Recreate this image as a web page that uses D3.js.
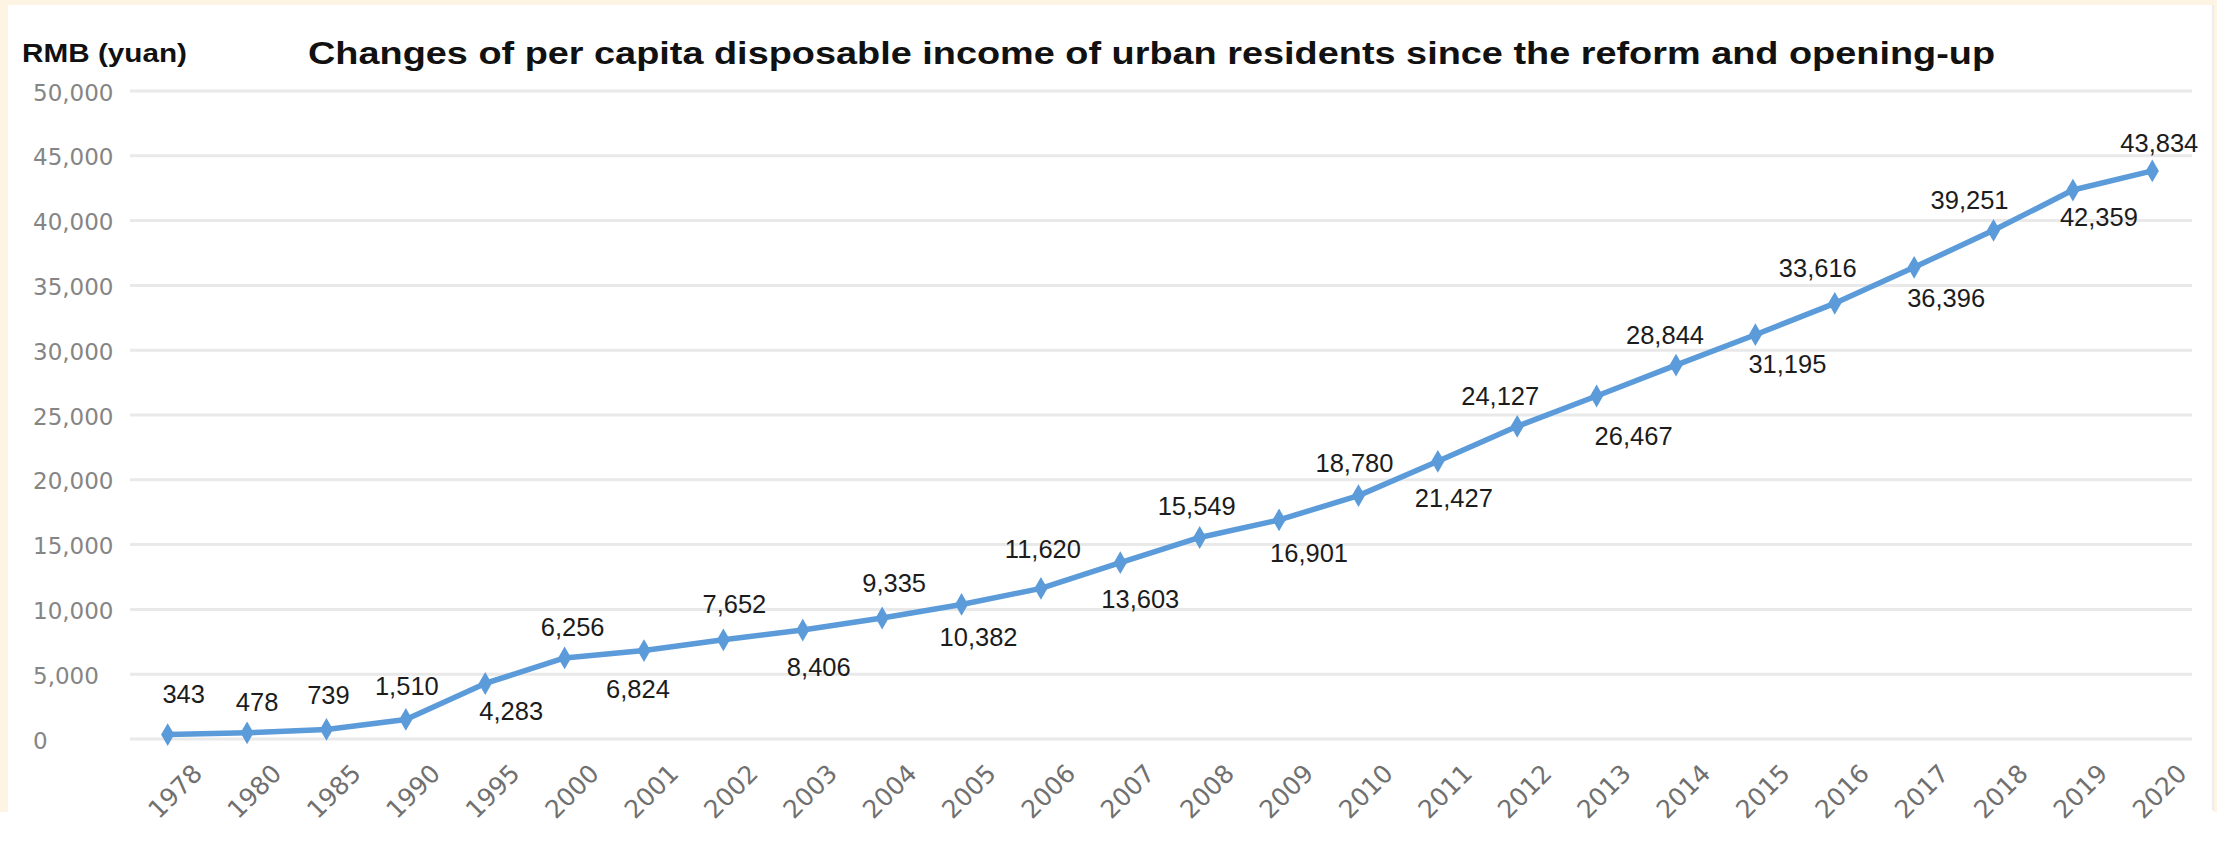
<!DOCTYPE html>
<html>
<head>
<meta charset="utf-8">
<script src="https://cdn.jsdelivr.net/npm/d3@7"></script>
<style>
  html, body { margin: 0; padding: 0; background: #ffffff; }
  svg { display: block; }
</style>
</head>
<body>
<svg id="chart"></svg>
<script>
// data
const years = ["1978", "1980", "1985", "1990", "1995", "2000", "2001", "2002", "2003", "2004",
    "2005", "2006", "2007", "2008", "2009", "2010", "2011", "2012", "2013", "2014",
    "2015", "2016", "2017", "2018", "2019", "2020"];
const income = [343, 478, 739, 1510, 4283, 6256, 6824, 7652, 8406, 9335,
    10382, 11620, 13603, 15549, 16901, 18780, 21427, 24127, 26467, 28844,
    31195, 33616, 36396, 39251, 42359, 43834];
const yTicks = [0, 5000, 10000, 15000, 20000, 25000, 30000, 35000, 40000, 45000, 50000];

// where each value label sits relative to its point (px)
const labelDx = [16, 10, 2, 1, 26, 8, -6, 11, 16, 12, 17, 2, 20, -3, 30, -4, 16, -17, 37, -11, 32, -17, 32, -24, 26, 7];
const labelDy = [-41, -31, -35, -34, 27, -31, 38, -36, 37, -35, 32, -40, 36, -32, 33, -33, 37, -30, 40, -30, 29, -36, 31, -30, 27, -28];

const title = "Changes of per capita disposable income of urban residents since the reform and opening-up";
const unitLabel = "RMB (yuan)";

const width = 2217, height = 846;

const svg = d3.select("#chart")
    .attr("width", width)
    .attr("height", height);

// cream frame + white panel
svg.append("rect")
    .attr("x", 0).attr("y", 0)
    .attr("width", width).attr("height", 812)
    .attr("fill", "#fdf4e3");
svg.append("rect")
    .attr("x", 8).attr("y", 5)
    .attr("width", 2205).attr("height", 807)
    .attr("fill", "#ffffff");
svg.append("line")
    .attr("x1", 2213).attr("x2", 2213)
    .attr("y1", 5).attr("y2", 810)
    .attr("stroke", "#ececec")
    .attr("stroke-width", 2);

// scales
const x = d3.scaleBand()
    .domain(years)
    .range([128, 2192]);

const y = d3.scaleLinear()
    .domain([0, 50000])
    .range([739, 91]);

const cx = d => x(d) + x.bandwidth() / 2;

// gridlines
svg.append("g")
    .selectAll("line")
    .data(yTicks)
    .join("line")
    .attr("x1", 130)
    .attr("x2", 2192)
    .attr("y1", d => y(d))
    .attr("y2", d => y(d))
    .attr("stroke", "#e9e9e9")
    .attr("stroke-width", 3);

// y axis labels (left aligned, like the original)
svg.append("g")
    .selectAll("text")
    .data(yTicks)
    .join("text")
    .attr("x", 33)
    .attr("y", d => y(d))
    .attr("dy", "0.42em")
    .style("font-family", "DejaVu Sans, sans-serif")
    .style("font-size", "23px")
    .style("fill", "#858585")
    .text(d => d3.format(",")(d));

// x axis labels, rotated
const xAxis = d3.axisBottom(x).tickSize(0).tickPadding(0);
const xg = svg.append("g")
    .attr("transform", "translate(0,739)")
    .call(xAxis);
xg.select(".domain").remove();
xg.selectAll("text")
    .style("font-family", "DejaVu Sans, sans-serif")
    .style("font-size", "25px")
    .style("fill", "#707070")
    .style("text-anchor", "end")
    .attr("y", 0)
    .attr("dy", 0)
    .attr("transform", "translate(36,36) rotate(-45)");

// line
const line = d3.line()
    .x((_, i) => cx(years[i]))
    .y(v => y(v));

svg.append("path")
    .datum(income)
    .attr("fill", "none")
    .attr("stroke", "#5b9bd9")
    .attr("stroke-width", 5.5)
    .attr("stroke-linejoin", "round")
    .attr("d", line);

// diamond markers
svg.append("g")
    .selectAll("path")
    .data(income)
    .join("path")
    .attr("transform", (v, i) => `translate(${cx(years[i])},${y(v)})`)
    .attr("d", d3.symbol().type(d3.symbolDiamond).size(150))
    .attr("fill", "#5b9bd9");

// value labels
svg.append("g")
    .selectAll("text")
    .data(income)
    .join("text")
    .attr("x", (v, i) => cx(years[i]) + labelDx[i])
    .attr("y", (v, i) => y(v) + labelDy[i])
    .attr("dy", "0.36em")
    .attr("text-anchor", "middle")
    .style("font-family", "Liberation Sans, Arial, sans-serif")
    .style("font-size", "25.5px")
    .style("fill", "#1c1c1c")
    .text(v => d3.format(",")(v));

// unit label and title (stretched a bit wider, as in the source image)
svg.append("text")
    .attr("x", 22)
    .attr("y", 62)
    .attr("textLength", 165)
    .attr("lengthAdjust", "spacingAndGlyphs")
    .style("font-family", "Liberation Sans, Arial, sans-serif")
    .style("font-weight", "bold")
    .style("font-size", "25px")
    .style("fill", "#111")
    .text(unitLabel);

svg.append("text")
    .attr("x", 308)
    .attr("y", 64)
    .attr("textLength", 1687)
    .attr("lengthAdjust", "spacingAndGlyphs")
    .style("font-family", "Liberation Sans, Arial, sans-serif")
    .style("font-weight", "bold")
    .style("font-size", "32px")
    .style("fill", "#111")
    .text(title);
</script>
</body>
</html>
